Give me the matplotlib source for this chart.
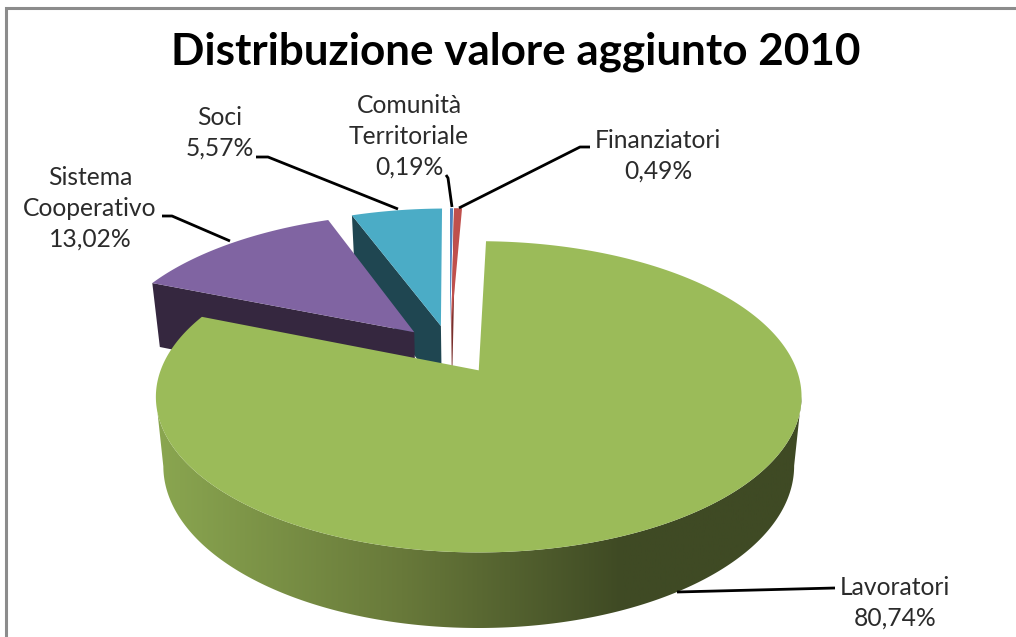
import numpy as np
import matplotlib
matplotlib.use("Agg")
import matplotlib.pyplot as plt
from matplotlib.colors import LinearSegmentedColormap
from matplotlib.patches import Polygon

TITLE = "Distribuzione valore aggiunto 2010"
names = ["Lavoratori", "Sistema\nCooperativo", "Soci", "Comunità\nTerritoriale", "Finanziatori"]
values = [80.74, 13.02, 5.57, 0.19, 0.49]
colors = ["#9BBB59", "#8064A2", "#4BACC6", "#4F81BD", "#C0504D"]
side_colors = ["#5a6c30", "#35273F", "#1F4651", "#2A4A75", "#7A2F2C"]
label_pos = [(895, 603), (90, 208), (220, 133), (409, 136), (658, 156)]
leaders = [
    [(835, 588), (677, 592)],
    [(162, 216), (172, 216), (230, 241)],
    [(256, 157), (268, 157), (398, 209)],
    [(446, 175), (448, 178), (452, 207)],
    [(590, 147), (580, 147), (459, 208)],
]

# projection parameters (pixels)
CX, CY, A, B, K, EXPL, START = 480.0, 370.0, 151.0, 318.0, 0.17, 0.17, 1.5
CENTRE = np.array([-0.097, 0.14])
BOTTOM_X = 0.977


def project(u, v, bottom=False):
    w = 1 + K * v
    x = B * u / w
    y = -A * v / w
    if bottom:
        x = x * BOTTOM_X
        y = y + 68 / (1 + 0.1 * v)
    return CX + x, CY + y


def slice_geom(a0, a1):
    mid = np.radians((a0 + a1) / 2)
    apex = CENTRE + EXPL * np.array([np.sin(mid), np.cos(mid)])
    t = np.radians(np.linspace(a0, a1, max(int(a1 - a0) * 2, 2) + 1))
    return apex, apex[0] + np.sin(t), apex[1] + np.cos(t)


fig = plt.figure(figsize=(10.16, 6.37), dpi=100, facecolor="white")
ax = fig.add_axes([0, 0, 1, 1])
ax.set_axis_off()

fr = np.array(values) / sum(values)
edges = START + np.concatenate([[0], np.cumsum(fr) * 360])
geoms = [slice_geom(edges[i], edges[i + 1]) for i in range(len(values))]

# rear slices, drawn from back to front
z = 2.0
for i in [2, 1, 4, 3]:
    apex, us, vs = geoms[i]
    if i != 3:
        side = [project(apex[0], apex[1]), project(us[0], vs[0]),
                project(us[0], vs[0], True), project(apex[0], apex[1], True)]
        ax.add_patch(Polygon(side, closed=True, fc=side_colors[i], ec="none", zorder=z))
    top = [project(apex[0], apex[1])] + [project(a, b) for a, b in zip(us, vs)]
    ax.add_patch(Polygon(top, closed=True, fc=colors[i], ec="none", zorder=z + 0.01))
    z += 0.1

# main slice: curved wall with horizontal shading, then top face
apex, us, vs = geoms[0]
t_xy = np.array([project(a, b) for a, b in zip(us, vs)])
b_xy = np.array([project(a, b, True) for a, b in zip(us, vs)])
i0, i1 = int(np.argmax(t_xy[:, 0])), int(np.argmin(t_xy[:, 0]))
j0, j1 = int(np.argmax(b_xy[:, 0])), int(np.argmin(b_xy[:, 0]))
wall_pts = np.vstack([t_xy[i0:i1 + 1], b_xy[j0:j1 + 1][::-1]])
wall = Polygon(wall_pts, closed=True, fc="none", ec="none", zorder=3)
ax.add_patch(wall)
cmap = LinearSegmentedColormap.from_list(
    "wall", [(0, "#8AA650"), (0.38, "#68793A"), (0.72, "#3F4A24"), (1, "#3F4A24")])
grad = np.linspace(0, 1, 256).reshape(1, -1)
im = ax.imshow(grad, cmap=cmap, extent=(157, 803, 630, 240), aspect="auto", zorder=3)
im.set_clip_path(wall)
top = [project(apex[0], apex[1])] + [project(a, b) for a, b in zip(us, vs)]
ax.add_patch(Polygon(top, closed=True, fc=colors[0], ec="none", zorder=4))

ax.set_xlim(0, 1016)
ax.set_ylim(637, 0)

# chart border
ax.plot([6, 6, 1016], [637, 8, 8], color="#8C8C8C", lw=2.2, solid_joinstyle="miter", zorder=1)

ax.text(516, 52, TITLE, ha="center", va="center", fontsize=31.7, fontweight="bold",
        family="Lato", color="black", zorder=6)

for name, val, pos, pts in zip(names, values, label_pos, leaders):
    label = f"{name}\n{val:.2f}%".replace(".", ",")
    ax.text(pos[0], pos[1], label, ha="center", va="center", fontsize=17.7,
            family="Lato", color="#2b2b2b", linespacing=1.4, zorder=6)
    xs, ys = zip(*pts)
    ax.plot(xs, ys, color="black", lw=2, zorder=5, solid_capstyle="butt")

fig.savefig("out.png", dpi=100)
